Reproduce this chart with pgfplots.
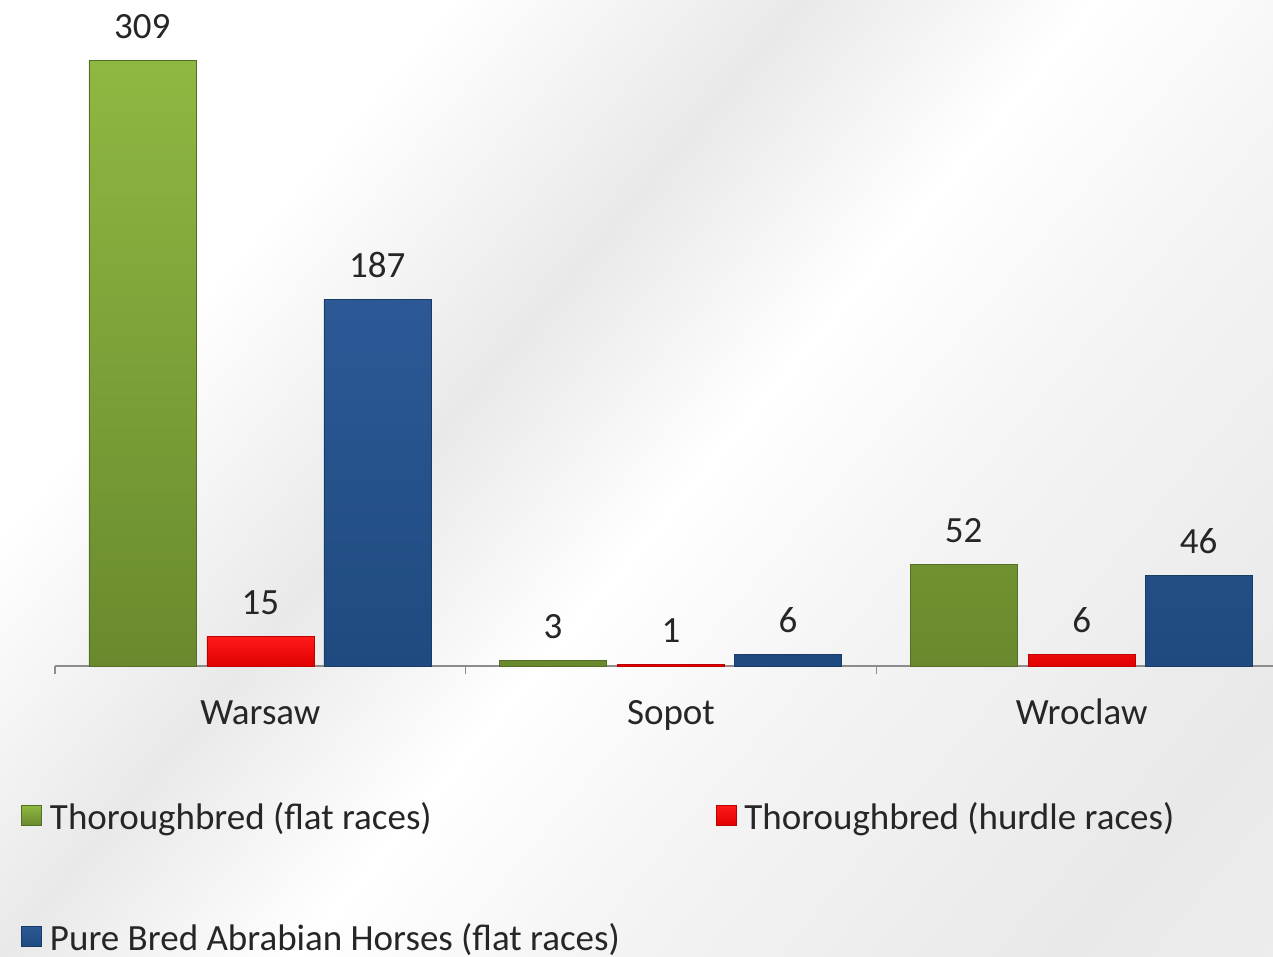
\documentclass[border=0pt]{standalone}
\usepackage{pgfplots}
\pgfplotsset{compat=1.18}
\usepackage{fontspec}
\setmainfont{Carlito}
\definecolor{gtop}{HTML}{8FB842}
\definecolor{gbot}{HTML}{6A892E}
\definecolor{rtop}{HTML}{FF1A1A}
\definecolor{rbot}{HTML}{E00000}
\definecolor{btop}{HTML}{2C5996}
\definecolor{bbot}{HTML}{1F4A80}
\definecolor{bgg}{HTML}{E9E9E9}
\definecolor{bgl}{HTML}{F4F4F4}
\definecolor{axgray}{HTML}{8C8C8C}
\pgfdeclarehorizontalshading{bgshade}{100bp}{color(0bp)=(white); color(30bp)=(white); color(42bp)=(bgg); color(52bp)=(white); color(62bp)=(bgl); color(78bp)=(bgg); color(100bp)=(bgl)}
\newcommand{\lblfont}{\fontsize{18.5pt}{22pt}\selectfont}
\begin{document}
\begin{tikzpicture}
\useasboundingbox (0,0) rectangle (636.5pt,478.5pt);
\begin{scope}
\clip (0,0) rectangle (636.5pt,478.5pt);
\shade[shading=bgshade, shading angle=-40] (0,0) rectangle (636.5pt,478.5pt);
\begin{axis}[
  at={(27.5pt,145.5pt)}, anchor=south west,
  scale only axis, width=616pt, height=333pt,
  xmin=-0.5, xmax=2.5, ymin=0, ymax=339.6,
  axis x line=bottom, axis y line=none,
  x axis line style={draw=axgray, line width=0.6pt, -},
  xtick={-0.5,0.5,1.5,2.5}, xticklabels={},
  major tick length=4pt, tick align=outside,
  xtick style={draw=axgray, line width=0.6pt},
  extra x ticks={0,1,2},
  extra x tick labels={Warsaw,Sopot,Wroclaw},
  extra x tick style={major tick length=0pt,
    tick label style={anchor=base, yshift=-29.5pt, inner sep=0pt, font=\lblfont, text=black!85}},
  ytick=\empty,
  clip=false,
  ybar, bar width=53.5pt,
  nodes near coords,
  every node near coord/.append style={anchor=base, yshift=11pt, inner sep=0pt, font=\lblfont, text=black!85},
  /pgf/number format/assume math mode=true,
  legend columns=2,
  legend cell align=left,
  legend image code/.code={\fill[#1] (0pt,-4pt) rectangle (10pt,6pt); \path (14pt,0pt);},
  legend style={draw=none, fill=none, font=\lblfont, text=black!85,
    at={(0,0)}, anchor=north west, xshift=-20pt, yshift=-66pt,
    row sep=45.5pt,
    /tikz/every even column/.append style={column sep=48pt},
    nodes={inner sep=0pt}},
]
\addplot[bar shift=-59pt, top color=gtop, bottom color=gbot, draw=gbot!80!black, line width=0.3pt]
  coordinates {(0,309) (1,3) (2,52)};
\addplot[bar shift=0pt, top color=rtop, bottom color=rbot, draw=rbot!85!black, line width=0.3pt]
  coordinates {(0,15) (1,1) (2,6)};
\addplot[bar shift=58.5pt, top color=btop, bottom color=bbot, draw=bbot!80!black, line width=0.3pt]
  coordinates {(0,187) (1,6) (2,46)};
\legend{Thoroughbred (flat races),Thoroughbred (hurdle races),Pure Bred Abrabian Horses (flat races)}
\end{axis}
\end{scope}
\end{tikzpicture}
\end{document}
